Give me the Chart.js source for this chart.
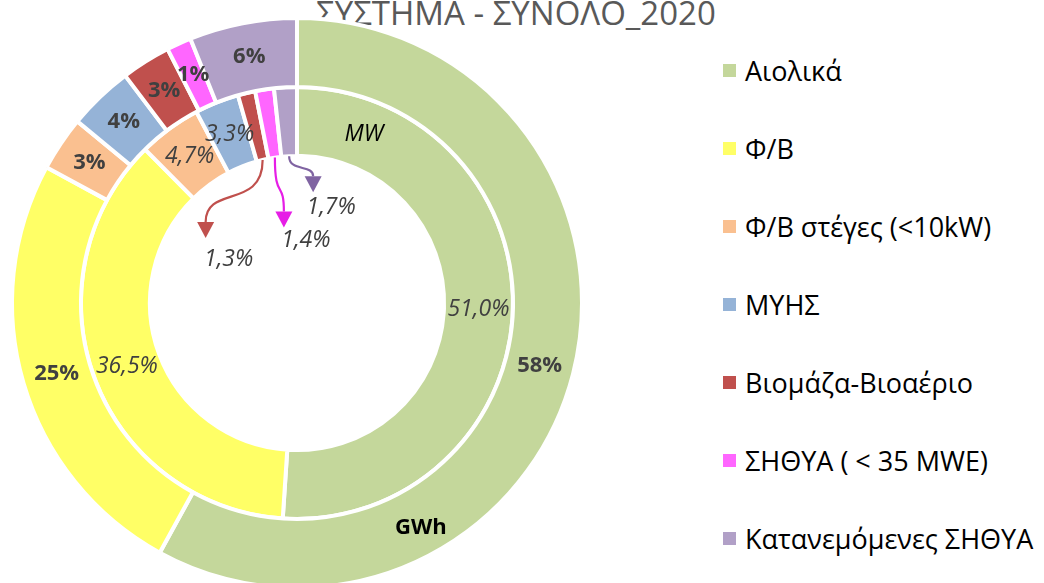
<!DOCTYPE html>
<html>
<head>
<meta charset="utf-8">
<script src="https://cdn.jsdelivr.net/npm/chart.js@4.4.1/dist/chart.umd.min.js"></script>
<style>
    html, body { margin: 0; padding: 0; background: #fff; width: 1044px; height: 583px; overflow: hidden; }
    #wrap { position: absolute; left: 0; top: 0; width: 600px; height: 620px; }
    #title { position: absolute; left: 316px; top: -10px; font: 33px 'Open Sans'; color: #595959; white-space: nowrap; }
    #legend { position: absolute; left: 723px; top: 0; font-family: 'Open Sans'; font-size: 27px; color: #000; }
    .item { position: absolute; left: 0; height: 40px; display: flex; align-items: center; white-space: nowrap; }
    .box { width: 13px; height: 13px; margin-right: 9px; }
</style>
</head>
<body>
<div id="title">ΣΥΣΤΗΜΑ - ΣΥΝΟΛΟ_2020</div>
<div id="wrap"><canvas id="ringChart" width="600" height="620"></canvas></div>
<div id="legend"></div>
<script>
const categories = ['Αιολικά', 'Φ/Β', 'Φ/Β στέγες (<10kW)', 'ΜΥΗΣ', 'Βιομάζα-Βιοαέριο', 'ΣΗΘΥΑ ( < 35 MWE)', 'Κατανεμόμενες ΣΗΘΥΑ'];
const colors = ['#C4D79B', '#FFFF66', '#FAC090', '#95B3D7', '#C0504D', '#FF66FF', '#B1A0C7'];
const arrowColors = ['#C0504D', '#C0504D', '#C0504D', '#C0504D', '#C0504D', '#E61EE6', '#8064A2'];

// outer ring: energy share (GWh), inner ring: installed capacity share (MW)
const gwhShare = [58.0, 24.9, 3.1, 3.7, 2.8, 1.4, 6.1];
const mwShare = [51.0, 36.5, 4.7, 3.3, 1.3, 1.4, 1.7];
const ringNames = ['GWh', 'MW'];

// small MW slices get an arrow callout: offsets of arrow tip and label from the slice's inner edge
const callouts = {
    4: { tip: [-57, 78], label: [-34, 99] },
    5: { tip: [9, 70], label: [31, 83] },
    6: { tip: [24, 36], label: [42, 51] }
};

function buildLegend() {
    const legend = document.getElementById('legend');
    categories.forEach((name, i) => {
        const item = document.createElement('div');
        item.className = 'item';
        item.style.top = (50 + 78 * i) + 'px';
        item.innerHTML = '<span class="box" style="background:' + colors[i] + '"></span><span></span>';
        item.lastChild.textContent = name;
        legend.appendChild(item);
    });
}

const ringLabels = {
    id: 'ringLabels',
    afterDatasetsDraw(chart) {
        const ctx = chart.ctx;
        ctx.save();
        ctx.textAlign = 'center';
        ctx.textBaseline = 'middle';

        chart.data.datasets.forEach((ds, di) => {
            const meta = chart.getDatasetMeta(di);
            meta.data.forEach((arc, i) => {
                const p = arc.getProps(['x', 'y', 'startAngle', 'endAngle', 'innerRadius', 'outerRadius'], true);
                const mid = (p.startAngle + p.endAngle) / 2;
                const r = (p.innerRadius + p.outerRadius) / 2;

                if (di === 0) {
                    ctx.font = 'bold 22px "Open Sans"';
                    ctx.fillStyle = '#404040';
                    ctx.fillText(Math.round(ds.data[i]) + '%', p.x + r * Math.cos(mid), p.y + r * Math.sin(mid));
                    return;
                }

                const text = ds.data[i].toFixed(1).replace('.', ',') + '%';
                ctx.font = 'italic 23px "Open Sans"';
                ctx.fillStyle = '#404040';
                const c = callouts[i];
                if (!c) {
                    ctx.fillText(text, p.x + r * Math.cos(mid), p.y + r * Math.sin(mid));
                    return;
                }

                // curved arrow from the slice edge down to the label
                const sx = p.x + p.innerRadius * Math.cos(mid);
                const sy = p.y + p.innerRadius * Math.sin(mid);
                const tx = sx + c.tip[0];
                const ty = sy + c.tip[1];
                const baseY = ty - 16;
                const dy = baseY - sy;
                ctx.strokeStyle = arrowColors[i];
                ctx.fillStyle = arrowColors[i];
                ctx.lineWidth = 2.2;
                ctx.beginPath();
                ctx.moveTo(sx, sy);
                ctx.bezierCurveTo(sx, sy + dy * 0.8, tx, baseY - dy * 0.6, tx, baseY);
                ctx.stroke();
                ctx.beginPath();
                ctx.moveTo(tx - 8.5, baseY);
                ctx.lineTo(tx + 8.5, baseY);
                ctx.lineTo(tx, ty);
                ctx.closePath();
                ctx.fill();

                ctx.fillStyle = '#404040';
                ctx.fillText(text, sx + c.label[0], sy + c.label[1]);
            });

            // ring name (GWh / MW)
            const first = meta.data[0].getProps(['x', 'y', 'innerRadius', 'outerRadius'], true);
            const a = di === 0 ? (-Math.PI / 2 + 0.42 * 2 * Math.PI) : (-Math.PI / 2 + 0.06 * 2 * Math.PI);
            const rr = di === 0 ? first.outerRadius - 28 : (first.innerRadius + first.outerRadius) / 2;
            ctx.font = di === 0 ? 'bold 22px "Open Sans"' : 'italic 23px "Open Sans"';
            ctx.fillStyle = '#000';
            ctx.fillText(ringNames[di], first.x + rr * Math.cos(a), first.y + rr * Math.sin(a));
        });
        ctx.restore();
    }
};

function initializeChart() {
    new Chart(document.getElementById('ringChart'), {
        type: 'doughnut',
        data: {
            labels: categories,
            datasets: [
                {
                    label: ringNames[0],
                    data: gwhShare,
                    backgroundColor: colors,
                    borderColor: '#fff',
                    borderWidth: 4
                },
                {
                    label: ringNames[1],
                    data: mwShare,
                    backgroundColor: colors,
                    borderColor: '#fff',
                    borderWidth: 4
                }
            ]
        },
        options: {
            responsive: false,
            animation: false,
            cutout: '51.6%',
            layout: { padding: { left: 10, top: 16, right: 16, bottom: 30 } },
            plugins: {
                legend: { display: false },
                tooltip: { enabled: false }
            }
        },
        plugins: [ringLabels]
    });
}

document.addEventListener('DOMContentLoaded', () => {
    buildLegend();
    initializeChart();
});
</script>
</body>
</html>
